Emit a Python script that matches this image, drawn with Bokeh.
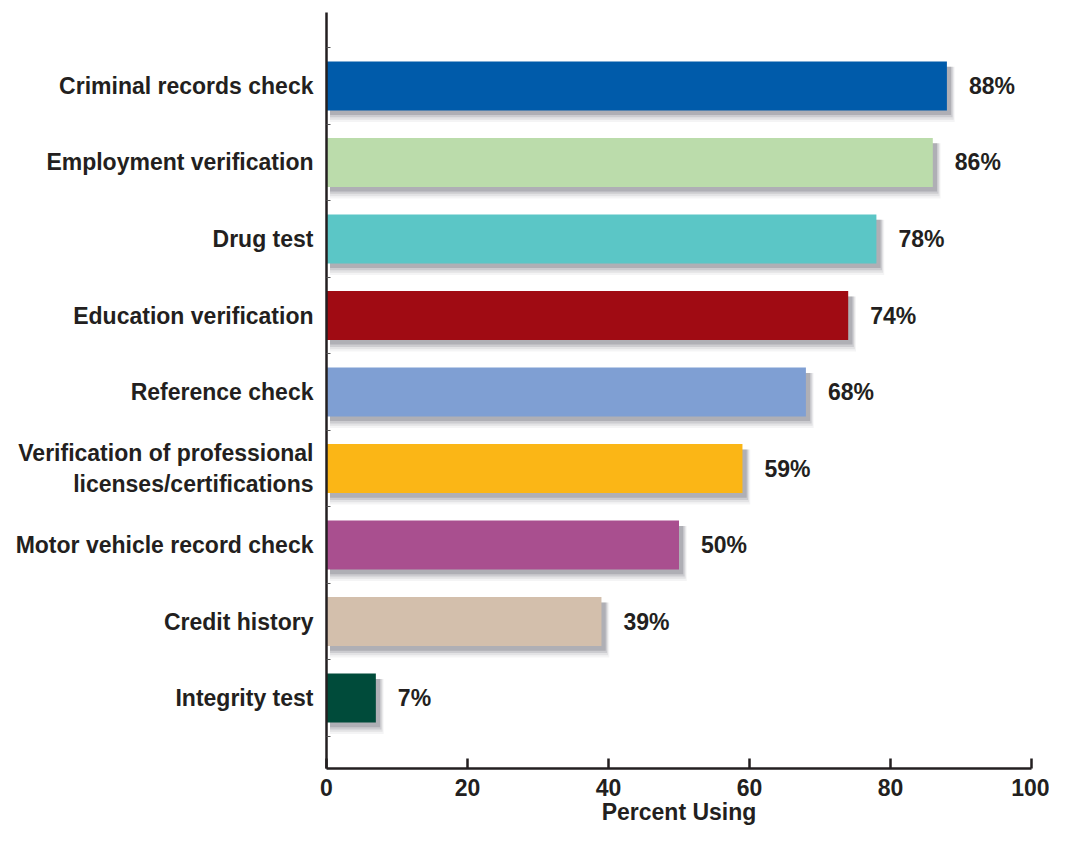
from bokeh.plotting import figure
from bokeh.models import ColumnDataSource, FixedTicker, Range1d
from bokeh.transform import dodge
from bokeh.core.properties import value
from bokeh.embed import file_html
from bokeh.resources import INLINE

categories = ["Criminal records check", "Employment verification", "Drug test",
              "Education verification", "Reference check",
              "Verification of professional\nlicenses/certifications",
              "Motor vehicle record check", "Credit history", "Integrity test"]
values = [88, 86, 78, 74, 68, 59, 50, 39, 7]
colors = ["#005baa", "#bbdcab", "#5bc6c6", "#a00b13", "#7f9fd3",
          "#fbb616", "#a94f8f", "#d3bfac", "#004b3a"]
x_ticks = [0, 20, 40, 60, 80, 100]

n = len(categories)
ypos = [n - i for i in range(n)]
labels = [f"{v}%" for v in values]

src = ColumnDataSource(dict(y=ypos, v=values, c=colors, lab=labels))

FONT = "Liberation Sans"
INK = "#231f20"
FS = "23px"
FW = "bold"

p = figure(width=1049, height=832, output_backend="svg", toolbar_location=None,
           x_range=Range1d(0, 100), y_range=Range1d(0.08, n + 0.96),
           min_border_left=326, min_border_right=18, min_border_top=12,
           min_border_bottom=64)
p.outline_line_color = None
p.xgrid.visible = False
p.ygrid.visible = False
p.background_fill_color = "white"

# soft drop shadow layers
for (dx, dy, h, a) in [(1.1, -0.11, 0.72, 0.06), (0.95, -0.095, 0.69, 0.10),
                       (0.8, -0.08, 0.66, 0.15), (0.6, -0.065, 0.63, 0.22)]:
    p.hbar(y=dodge("y", dy, range=p.y_range), left=0.5,
           right=dodge("v", dx, range=p.x_range), height=h, source=src,
           fill_color="#4a4a55", fill_alpha=a, line_color=None)

p.hbar(y="y", left=0, right="v", height=0.64, source=src,
       fill_color="c", line_color=None)

p.text(x="v", y="y", text="lab", source=src, x_offset=22,
       text_align="left", text_baseline="middle", text_font_size=FS,
       text_font=value(FONT), text_font_style=FW, text_color=INK)

# y axis
ya = p.yaxis[0]
ya.ticker = FixedTicker(ticks=ypos, minor_ticks=[i + 0.5 for i in range(n + 1)])
ya.major_label_overrides = {y: c for y, c in zip(ypos, categories)}
ya.major_tick_in = 0
ya.major_tick_out = 0
ya.minor_tick_in = 4
ya.minor_tick_out = 0
ya.minor_tick_line_color = "#555555"
ya.axis_line_color = INK
ya.axis_line_width = 2.5
ya.major_label_text_font = FONT
ya.major_label_text_font_size = FS
ya.major_label_text_font_style = FW
ya.major_label_text_color = INK
ya.major_label_standoff = 13

xa = p.xaxis[0]
xa.ticker = FixedTicker(ticks=x_ticks)
xa.major_tick_in = 10
xa.major_tick_out = 0
xa.major_tick_line_width = 2.5
xa.major_tick_line_color = INK
xa.minor_tick_line_color = None
xa.axis_line_color = INK
xa.axis_line_width = 2.5
xa.major_label_text_font = FONT
xa.major_label_text_font_size = FS
xa.major_label_text_font_style = FW
xa.major_label_text_color = INK
xa.major_label_standoff = 10
xa.axis_label = "Percent Using"
xa.axis_label_text_font = FONT
xa.axis_label_text_font_size = FS
xa.axis_label_text_font_style = FW
xa.axis_label_text_color = INK
xa.axis_label_standoff = 0

open("out.html", "w").write(file_html(p, INLINE))
